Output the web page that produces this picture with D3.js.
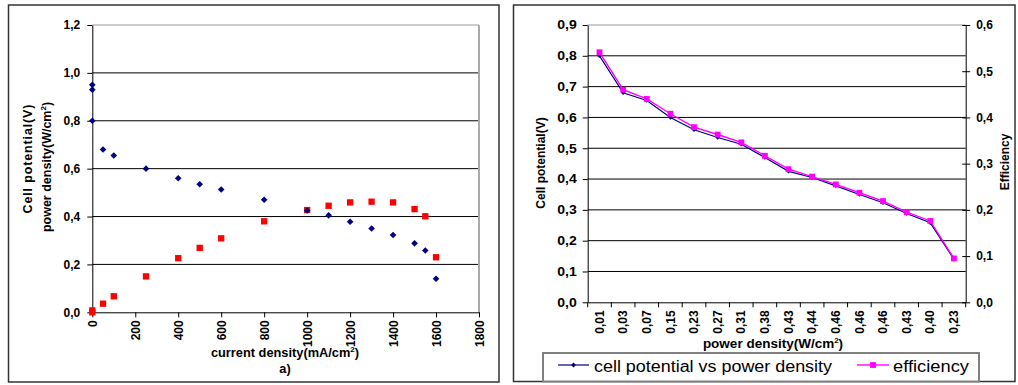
<!DOCTYPE html>
<html><head><meta charset="utf-8">
<script src="https://cdn.jsdelivr.net/npm/d3@7"></script>
<style>body{margin:0;background:#fff}svg{display:block}text{font-family:"Liberation Sans",Arial,sans-serif}</style>
</head><body><svg id="c" width="1018" height="385"></svg>
<script>
// ---- Left chart data ----
const potCurrent = [0,0,0,50,100,250,400,500,600,800,1000,1100,1200,1300,1400,1500,1550,1600];
const potValues = [0.95,0.93,0.80,0.68,0.655,0.60,0.56,0.535,0.513,0.47,0.425,0.405,0.378,0.35,0.323,0.288,0.258,0.14];
const pdCurrent = [0,0,50,100,250,400,500,600,800,1000,1100,1200,1300,1400,1500,1550,1600];
const pdValues = [0.0,0.008,0.036,0.067,0.150,0.226,0.269,0.309,0.380,0.427,0.445,0.459,0.462,0.459,0.431,0.401,0.230];
const leftXTicks = [0,200,400,600,800,1000,1200,1400,1600,1800];
const leftYTicks = [0,0.2,0.4,0.6,0.8,1.0,1.2];

// ---- Right chart data ----
const pdLabels = ["0,01","0,03","0,07","0,15","0,23","0,27","0,31","0,38","0,43","0,44","0,46","0,46","0,46","0,43","0,40","0,23"];
const cellPotential = [0.80,0.68,0.655,0.60,0.56,0.535,0.513,0.47,0.425,0.405,0.378,0.35,0.323,0.288,0.258,0.14];
const efficiency = [0.541,0.46,0.44,0.408,0.379,0.363,0.346,0.317,0.288,0.272,0.255,0.237,0.219,0.195,0.176,0.095];
const rightYTicks = [0,0.1,0.2,0.3,0.4,0.5,0.6,0.7,0.8,0.9];
const rightY2Ticks = [0,0.1,0.2,0.3,0.4,0.5,0.6];

const svg = d3.select("#c");
const comma = d => d3.format(".1f")(d).replace(".", ",");
const navy = "#000080", red = "#ff0000", mag = "#ff00ff";

// frames
svg.append("rect").attr("x",8.5).attr("y",5).attr("width",490.5).attr("height",377)
  .attr("fill","none").attr("stroke","#333").attr("stroke-width",1.5);
svg.append("rect").attr("x",513.5).attr("y",5).attr("width",501.5).attr("height",376.5)
  .attr("fill","none").attr("stroke","#333").attr("stroke-width",1.5);

function styleAxis(g){
  g.selectAll("path.domain").attr("stroke","#000");
  g.selectAll(".tick line").attr("stroke","#000");
  g.selectAll("text").attr("font-size",12).attr("font-weight","bold").attr("fill","#000")
   .attr("font-family",'"Liberation Sans",Arial,sans-serif');
}

// ================= LEFT =================
const L = {left:92.3, right:479, top:25, bottom:312.3};
const xL = d3.scaleLinear().domain([0,1800]).range([L.left,L.right]);
const yL = d3.scaleLinear().domain([0,1.2]).range([L.bottom,L.top]);
const gl = svg.append("g");
gl.selectAll("line.grid").data(leftYTicks.filter(d=>d>0)).join("line")
  .attr("x1",L.left).attr("x2",L.right).attr("y1",d=>yL(d)).attr("y2",d=>yL(d))
  .attr("stroke",d=>d>1.1?"#999":"#000").attr("stroke-width",1);
gl.append("line").attr("x1",L.right).attr("x2",L.right).attr("y1",L.top).attr("y2",L.bottom)
  .attr("stroke","#aaa").attr("stroke-width",2);
const ylAx = gl.append("g").attr("transform",`translate(${L.left},0)`)
  .call(d3.axisLeft(yL).tickValues(leftYTicks).tickSize(5).tickPadding(7).tickSizeOuter(0).tickFormat(comma));
styleAxis(ylAx);
const xlAx = gl.append("g").attr("transform",`translate(0,${L.bottom})`)
  .call(d3.axisBottom(xL).tickValues(leftXTicks).tickSize(5).tickSizeOuter(0).tickFormat(d3.format("d")));
styleAxis(xlAx);
xlAx.selectAll("text").attr("transform","rotate(-90)").attr("x",-8).attr("y",0).attr("dy","0.35em").attr("text-anchor","end");

gl.selectAll("path.pd").data(pdValues).join("path")
  .attr("d", d3.symbol().type(d3.symbolSquare).size(40))
  .attr("transform",(d,i)=>`translate(${xL(pdCurrent[i])},${yL(d)})`).attr("fill",red);
gl.selectAll("path.pot").data(potValues).join("path")
  .attr("d", d3.symbol().type(d3.symbolSquare).size(22))
  .attr("transform",(d,i)=>`translate(${xL(potCurrent[i])},${yL(d)}) rotate(45)`).attr("fill",navy);

// left titles
gl.append("text").attr("transform","translate(32,159) rotate(-90)").attr("text-anchor","middle")
  .attr("font-size",12.5).attr("font-weight","bold").attr("textLength",109).attr("lengthAdjust","spacing").text("Cell potential(V)");
const t2 = gl.append("text").attr("transform","translate(51,167) rotate(-90)").attr("text-anchor","middle")
  .attr("font-size",12.5).attr("font-weight","bold");
t2.append("tspan").text("power density(W/cm");
t2.append("tspan").attr("dy",-5).attr("font-size",8).text("2");
t2.append("tspan").attr("dy",5).text(")");
const t3 = gl.append("text").attr("x",285).attr("y",357).attr("text-anchor","middle")
  .attr("font-size",12.8).attr("font-weight","bold");
t3.append("tspan").text("current density(mA/cm");
t3.append("tspan").attr("dy",-5).attr("font-size",8).text("2");
t3.append("tspan").attr("dy",5).text(")");
gl.append("text").attr("x",285).attr("y",373).attr("text-anchor","middle")
  .attr("font-size",12.8).attr("font-weight","bold").text("a)");

// ================= RIGHT =================
const R = {left:587.7, right:965.7, top:25, bottom:302.3};
const xR = d3.scaleBand().domain(d3.range(pdLabels.length)).range([R.left,R.right]);
const yR = d3.scaleLinear().domain([0,0.9]).range([R.bottom,R.top]);
const yR2 = d3.scaleLinear().domain([0,0.6]).range([R.bottom,R.top]);
const gr = svg.append("g");
gr.selectAll("line.grid").data(rightYTicks.filter(d=>d>0)).join("line")
  .attr("x1",R.left).attr("x2",R.right).attr("y1",d=>yR(d)).attr("y2",d=>yR(d))
  .attr("stroke",d=>d>0.85?"#999":"#000").attr("stroke-width",1);
const yrAx = gr.append("g").attr("transform",`translate(${R.left},0)`)
  .call(d3.axisLeft(yR).tickValues(rightYTicks).tickSize(5).tickPadding(6).tickSizeOuter(0).tickFormat(comma));
styleAxis(yrAx);
yrAx.selectAll("text").attr("textLength",19.5).attr("lengthAdjust","spacingAndGlyphs");
const yr2Ax = gr.append("g").attr("transform",`translate(${R.right},0)`)
  .call(d3.axisRight(yR2).tickValues(rightY2Ticks).tickSize(4.5).tickPadding(6).tickSizeOuter(0).tickFormat(comma));
styleAxis(yr2Ax);
yr2Ax.selectAll(".tick line").attr("x1",-3.5);
const xrAx = gr.append("g").attr("transform",`translate(0,${R.bottom})`)
  .call(d3.axisBottom(xR).tickSize(0).tickSizeOuter(0).tickFormat(i=>pdLabels[i]));
styleAxis(xrAx);
xrAx.selectAll("text").attr("transform","rotate(-90)").attr("x",-8).attr("y",0).attr("dy","0.35em").attr("text-anchor","end");
// category boundary ticks
const bounds = xR.domain().map(i=>xR(i)).concat([xR.range()[1]]);
gr.selectAll("line.bt").data(bounds).join("line")
  .attr("x1",d=>d).attr("x2",d=>d).attr("y1",R.bottom).attr("y2",R.bottom+5).attr("stroke","#000");

const cx = i => xR(i) + xR.bandwidth()/2;
gr.append("path").datum(cellPotential).attr("fill","none").attr("stroke",navy).attr("stroke-width",1.2)
  .attr("d", d3.line().x((d,i)=>cx(i)).y(d=>yR(d)));
gr.selectAll("path.cp").data(cellPotential).join("path")
  .attr("d", d3.symbol().type(d3.symbolSquare).size(10))
  .attr("transform",(d,i)=>`translate(${cx(i)},${yR(d)}) rotate(45)`).attr("fill",navy);
gr.append("path").datum(efficiency).attr("fill","none").attr("stroke",mag).attr("stroke-width",1.4)
  .attr("d", d3.line().x((d,i)=>cx(i)).y(d=>yR2(d)));
gr.selectAll("path.ef").data(efficiency).join("path")
  .attr("d", d3.symbol().type(d3.symbolSquare).size(34))
  .attr("transform",(d,i)=>`translate(${cx(i)},${yR2(d)})`).attr("fill",mag);

// right titles
gr.append("text").attr("transform","translate(544.5,163) rotate(-90)").attr("text-anchor","middle")
  .attr("font-size",12).attr("font-weight","bold").text("Cell potential(V)");
gr.append("text").attr("transform","translate(1009,162) rotate(-90)").attr("text-anchor","middle")
  .attr("font-size",12).attr("font-weight","bold").text("Efficiency");
const t4 = gr.append("text").attr("x",773).attr("y",348).attr("text-anchor","middle")
  .attr("font-size",13.5).attr("font-weight","bold");
t4.append("tspan").text("power density(W/cm");
t4.append("tspan").attr("dy",-5).attr("font-size",8).text("2");
t4.append("tspan").attr("dy",5).text(")");

// legend
const lg = gr.append("g");
lg.append("rect").attr("x",543).attr("y",353).attr("width",436).attr("height",28.5)
  .attr("fill","#fff").attr("stroke","#808080").attr("stroke-width",2);
lg.append("line").attr("x1",558).attr("x2",589).attr("y1",365).attr("y2",365).attr("stroke",navy).attr("stroke-width",1.2);
lg.append("path").attr("d", d3.symbol().type(d3.symbolSquare).size(12)).attr("transform","translate(573.5,365) rotate(45)").attr("fill",navy);
lg.append("text").attr("x",594).attr("y",371.5).attr("font-size",16).attr("textLength",238).attr("lengthAdjust","spacingAndGlyphs").text("cell potential vs power density");
lg.append("line").attr("x1",857).attr("x2",889).attr("y1",365).attr("y2",365).attr("stroke",mag).attr("stroke-width",1.4);
lg.append("path").attr("d", d3.symbol().type(d3.symbolSquare).size(34)).attr("transform","translate(873,365)").attr("fill",mag);
lg.append("text").attr("x",893).attr("y",371.5).attr("font-size",16).attr("textLength",76).attr("lengthAdjust","spacingAndGlyphs").text("efficiency");
</script></body></html>
